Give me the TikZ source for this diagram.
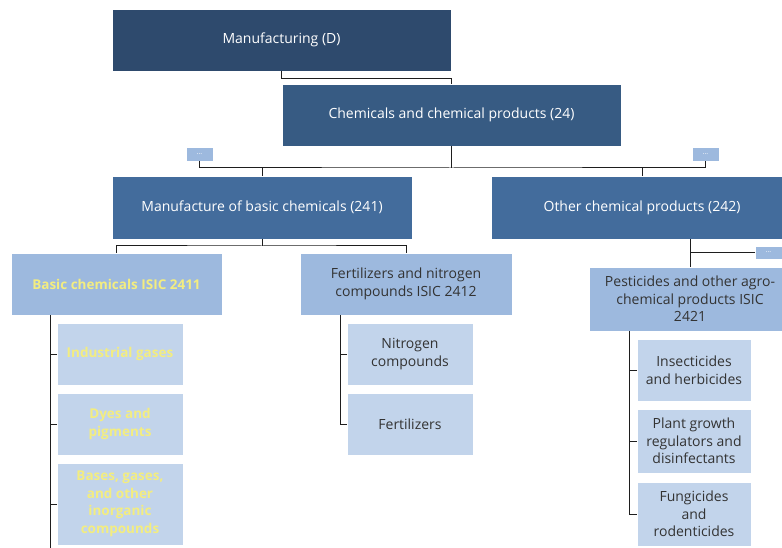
\documentclass[tikz,border=0pt]{standalone}
\usepackage{fontspec}
\setmainfont{Open Sans}
\definecolor{cManu}{HTML}{2E4A6D}
\definecolor{cChem}{HTML}{375B83}
\definecolor{cLvl3}{HTML}{436C9C}
\definecolor{cLvl4}{HTML}{9DB9DE}
\definecolor{cLvl5}{HTML}{C2D4EB}
\definecolor{cYel}{HTML}{F3ED80}
\definecolor{cTxt}{HTML}{333333}
\definecolor{cLine}{HTML}{1E1E1E}
\tikzset{
  box/.style={draw=white, line width=0.6pt, inner sep=0pt, outer sep=0pt, align=center, font=\fontsize{14}{17.5}\selectfont},
  dark/.style={box, text=white, font=\fontsize{14}{17.5}\selectfont},
  lvfour/.style={box, fill=cLvl4, text=cTxt},
  lvfive/.style={box, fill=cLvl5, text=cTxt},
  yel/.style={text=cYel, font=\fontsize{13.5}{17.5}\selectfont\bfseries},
  dots/.style={box, fill=cLvl4, text=white, font=\fontsize{7}{8}\selectfont},
  conn/.style={draw=cLine, line width=1pt}
}
\begin{document}
\begin{tikzpicture}[x=1pt,y=-1pt]
\useasboundingbox (0,0) rectangle (782,548);
\fill[white] (0,0) rectangle (782,548);
% level 1-3
\node[dark, fill=cManu, minimum width=339pt, minimum height=62pt] (man) at (281.5,40) {Manufacturing (D)};
\node[dark, fill=cChem, minimum width=339pt, minimum height=62pt] (chem) at (451.5,115) {Chemicals and chemical products (24)};
\node[dots, minimum width=27pt, minimum height=14pt] (dotsL) at (199.5,154) {...};
\node[dots, minimum width=27pt, minimum height=14pt] (dotsR) at (705.5,154) {...};
\node[dark, fill=cLvl3, minimum width=300pt, minimum height=63pt] (basic) at (262,207.5) {Manufacture of basic chemicals (241)};
\node[dark, fill=cLvl3, minimum width=302pt, minimum height=63pt] (other) at (642,207.5) {Other chemical products (242)};
% level 4
\node[lvfour, yel, minimum width=211pt, minimum height=62pt] (bchem) at (116.5,284) {Basic chemicals ISIC 2411};
\node[lvfour, minimum width=212pt, minimum height=62pt] (fert) at (406,284) {Fertilizers and nitrogen\\compounds ISIC 2412};
\node[lvfour, minimum width=202pt, minimum height=64pt] (pest) at (690,299) {Pesticides and other agro-\\chemical products ISIC\\2421};
\node[dots, minimum width=27pt, minimum height=13pt] (dots3) at (768.5,252.5) {...};
% level 5
\node[lvfive, yel, minimum width=126pt, minimum height=62pt] (ind) at (120,354) {Industrial gases};
\node[lvfive, yel, minimum width=126pt, minimum height=62pt] (dyes) at (120,424) {Dyes and\\pigments};
\node[lvfive, yel, minimum width=126pt, minimum height=82pt] (bases) at (120,504) {Bases, gases,\\and other\\inorganic\\compounds};
\node[lvfive, minimum width=126pt, minimum height=62pt] (nitro) at (410,354) {Nitrogen\\compounds};
\node[lvfive, minimum width=126pt, minimum height=62pt] (ferts) at (410,424) {Fertilizers};
\node[lvfive, minimum width=114pt, minimum height=62pt] (insect) at (694,370) {Insecticides\\and herbicides};
\node[lvfive, minimum width=114pt, minimum height=64pt] (plant) at (694,441) {Plant growth\\regulators and\\disinfectants};
\node[lvfive, minimum width=114pt, minimum height=64pt] (fung) at (694,514) {Fungicides\\and\\rodenticides};
% connectors
\coordinate (bus) at (451.5,168);
\coordinate (b2) at (262,246);
\coordinate (ltop) at (50,315);
\coordinate (lbot) at (50,548);
\coordinate (ftop) at (340,315);
\coordinate (ptop) at (629,331);
\draw[conn] (man.south) -- ++(0,8) -| (chem.north);
\draw[conn] (chem.south) -- (bus);
\draw[conn] (dotsL.south) |- (bus) -| (dotsR.south);
\draw[conn] (basic.north) -- (basic.north |- bus);
\draw[conn] (other.north) -- (other.north |- bus);
\draw[conn] (basic.south) -- (b2);
\draw[conn] (bchem.north) |- (b2) -| (fert.north);
\draw[conn] (pest.north) -- (pest.north |- other.south);
\draw[conn] (dots3.west) -- (dots3.west -| pest.north);
\draw[conn] (ltop) -- (lbot);
\draw[conn] (ind.west) -- (ind.west -| ltop);
\draw[conn] (dyes.west) -- (dyes.west -| ltop);
\draw[conn] (bases.west) -- (bases.west -| ltop);
\draw[conn] (ftop) |- (ferts.west);
\draw[conn] (nitro.west) -- (nitro.west -| ftop);
\draw[conn] (ptop) |- (fung.west);
\draw[conn] (insect.west) -- (insect.west -| ptop);
\draw[conn] (plant.west) -- (plant.west -| ptop);
\end{tikzpicture}
\end{document}
